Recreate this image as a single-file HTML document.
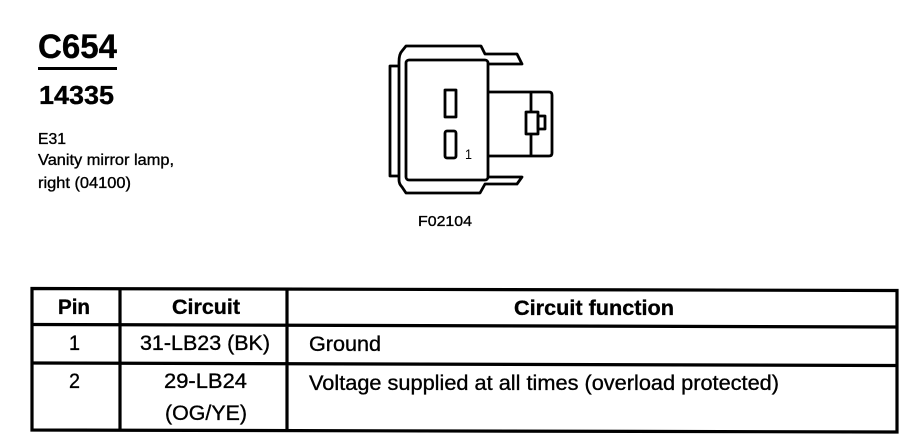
<!DOCTYPE html>
<html lang="en">
<head>
<meta charset="utf-8">
<title>C654</title>
<style>
html,body{margin:0;padding:0;background:#fff;width:908px;height:448px;overflow:hidden}
svg{display:block}
text{font-family:"Liberation Sans",sans-serif;fill:#000}
.b{font-weight:bold}
.n{stroke:#000;stroke-width:.35px}
.l{fill:none;stroke:#000;stroke-width:2.8;stroke-linejoin:round}
.t{stroke:#000;stroke-width:3.2;fill:none}
</style>
</head>
<body>
<svg width="908" height="448" viewBox="0 0 908 448" xmlns="http://www.w3.org/2000/svg">
<text class="b n" x="38" y="58" font-size="34" textLength="79" lengthAdjust="spacingAndGlyphs">C654</text>
<rect x="38" y="67" width="79" height="3"/>
<text class="b n" x="39" y="104" font-size="26" textLength="75" lengthAdjust="spacingAndGlyphs">14335</text>
<text class="n" x="38" y="144" font-size="15.500" textLength="28" lengthAdjust="spacingAndGlyphs">E31</text>
<text class="n" x="38" y="165" font-size="15.500" textLength="136" lengthAdjust="spacingAndGlyphs">Vanity mirror lamp,</text>
<text class="n" x="38" y="188" font-size="15.500" textLength="93" lengthAdjust="spacingAndGlyphs">right (04100)</text>

<path class="l" d="M399 176V62Q399 54 402 51L406 46H481L485 54H517L522 64H488"/>
<path class="l" d="M399 176V180Q399 184 402 187L406 193H480L485 184H517L522 177H488"/>
<path class="l" d="M399 66H390V176H399"/>
<rect class="l" x="406" y="60" width="82" height="120" rx="3"/>
<rect class="l" x="445" y="90" width="11" height="27"/>
<rect class="l" x="445" y="131" width="11" height="27" rx="2"/>
<text x="465" y="159" font-size="14" textLength="7" lengthAdjust="spacingAndGlyphs">1</text>
<path class="l" d="M488 92H549Q552 92 552 95V153Q552 156 549 156H488"/>
<path class="l" d="M531 92V112M531 134V156"/>
<rect class="l" x="526" y="112" width="12" height="22"/>
<rect class="l" x="538" y="116" width="7" height="13"/>
<text class="n" x="418" y="226" font-size="15" textLength="54" lengthAdjust="spacingAndGlyphs">F02104</text>

<path class="t" stroke-width="3.4" d="M32 288.5L897 290.5V432L32 430Z"/>
<path class="t" d="M32 324.5L897 327M32 363L897 365.5M120 288.5V430M287 289V430.5"/>

<text class="b n" x="58" y="314" font-size="21" textLength="32" lengthAdjust="spacingAndGlyphs">Pin</text>
<text class="b n" x="172" y="314" font-size="21" textLength="68" lengthAdjust="spacingAndGlyphs">Circuit</text>
<text class="b n" x="514" y="315" font-size="21" textLength="160" lengthAdjust="spacingAndGlyphs">Circuit function</text>
<text class="n" x="69" y="350" font-size="21" textLength="11" lengthAdjust="spacingAndGlyphs">1</text>
<text class="n" x="140" y="350" font-size="21" textLength="130" lengthAdjust="spacingAndGlyphs">31-LB23 (BK)</text>
<text class="n" x="309" y="351" font-size="21" textLength="72" lengthAdjust="spacingAndGlyphs">Ground</text>
<text class="n" x="69" y="388" font-size="21" textLength="11" lengthAdjust="spacingAndGlyphs">2</text>
<text class="n" x="164" y="388" font-size="21" textLength="83" lengthAdjust="spacingAndGlyphs">29-LB24</text>
<text class="n" x="309" y="390" font-size="21" textLength="470" lengthAdjust="spacingAndGlyphs">Voltage supplied at all times (overload protected)</text>
<text class="n" x="165" y="420" font-size="21" textLength="82" lengthAdjust="spacingAndGlyphs">(OG/YE)</text>
</svg>
</body>
</html>
